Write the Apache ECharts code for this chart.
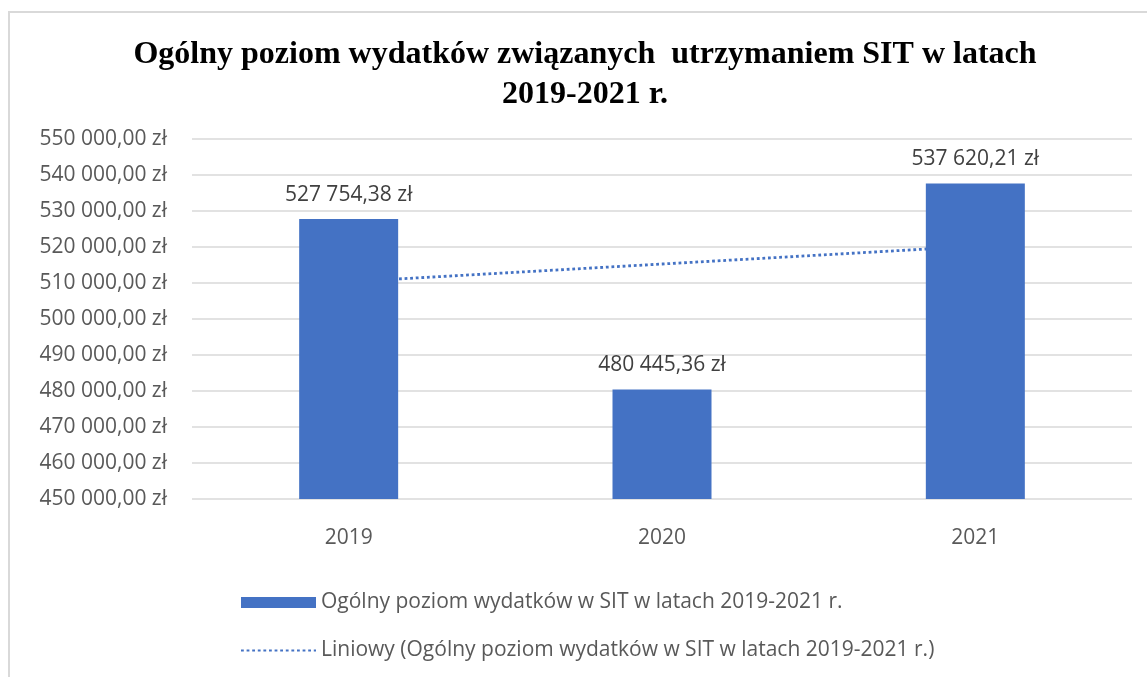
<!DOCTYPE html>
<html>
<head>
<meta charset="utf-8">
<script src="https://cdn.jsdelivr.net/npm/echarts@6/dist/echarts.min.js"></script>
<style>
  html, body { margin: 0; padding: 0; background: #fff; }
  #frame { position: absolute; left: 8px; top: 11px; width: 1139px; height: 666px;
           border-top: 2px solid #d9d9d9; border-left: 2px solid #d9d9d9; }
  #chart { position: absolute; left: 0; top: 0; width: 1147px; height: 677px; }
</style>
</head>
<body>
<div id="frame"></div>
<div id="chart"></div>
<script>
// dane
const years = ['2019', '2020', '2021']
const wydatki = [527754.38, 480445.36, 537620.21]
// linia trendu (liniowy) - odczytane na osi
const trend = [510340.4, 515273.3, 520206.2]
const yTicks = { min: 450000, max: 550000, step: 10000 }

const seriesName = 'Ogólny poziom wydatków w SIT w latach 2019-2021 r.'
const trendName = 'Liniowy (Ogólny poziom wydatków w SIT w latach 2019-2021 r.)'

// format 527 754,38 zł
function zl (v) {
  const parts = v.toFixed(2).split('.')
  const int = parts[0].replace(/\B(?=(\d{3})+(?!\d))/g, ' ')
  return int + ',' + parts[1] + ' zł'
}

const chart = echarts.init(document.getElementById('chart'))
const font = '"Open Sans", sans-serif'

chart.setOption({
  animation: false,
  title: {
    text: 'Ogólny poziom wydatków związanych  utrzymaniem SIT w latach\n2019-2021 r.',
    left: 580,
    top: 30,
    textAlign: 'center',
    textStyle: {
      fontFamily: '"Liberation Serif", "Times New Roman", serif',
      fontWeight: 'bold',
      fontSize: 32,
      lineHeight: 40,
      color: '#000'
    }
  },
  grid: { left: 192, right: 15, top: 139, bottom: 178 },
  xAxis: {
    type: 'category',
    data: years,
    axisLine: { show: false },
    axisTick: { show: false },
    axisLabel: { color: '#595959', fontFamily: font, fontSize: 21, margin: 29 }
  },
  yAxis: {
    type: 'value',
    min: yTicks.min,
    max: yTicks.max,
    interval: yTicks.step,
    axisLine: { show: false },
    axisTick: { show: false },
    splitLine: { lineStyle: { color: '#d9d9d9', width: 1.5 } },
    axisLabel: {
      color: '#595959', fontFamily: font, fontSize: 21, margin: 25,
      formatter: v => zl(v)
    }
  },
  legend: {
    orient: 'vertical',
    left: 235,
    top: 587,
    itemWidth: 75,
    itemHeight: 11,
    itemGap: 27,
    textStyle: { color: '#595959', fontFamily: font, fontSize: 21 },
    data: [
      { name: seriesName, icon: 'rect' },
      { name: trendName, itemStyle: { opacity: 0 } }
    ]
  },
  series: [
    {
      name: seriesName,
      type: 'bar',
      data: wydatki,
      barWidth: 99,
      z: 3,
      itemStyle: { color: '#4472C4' },
      label: {
        show: true,
        position: 'top',
        distance: 14,
        color: '#404040',
        fontFamily: font,
        fontSize: 21,
        formatter: p => zl(p.value)
      }
    },
    {
      name: trendName,
      type: 'line',
      data: trend,
      z: 1,
      symbol: 'none',
      showSymbol: false,
      lineStyle: { color: '#4472C4', width: 2.8, type: [2.8, 2.8] }
    }
  ]
})
</script>
</body>
</html>
